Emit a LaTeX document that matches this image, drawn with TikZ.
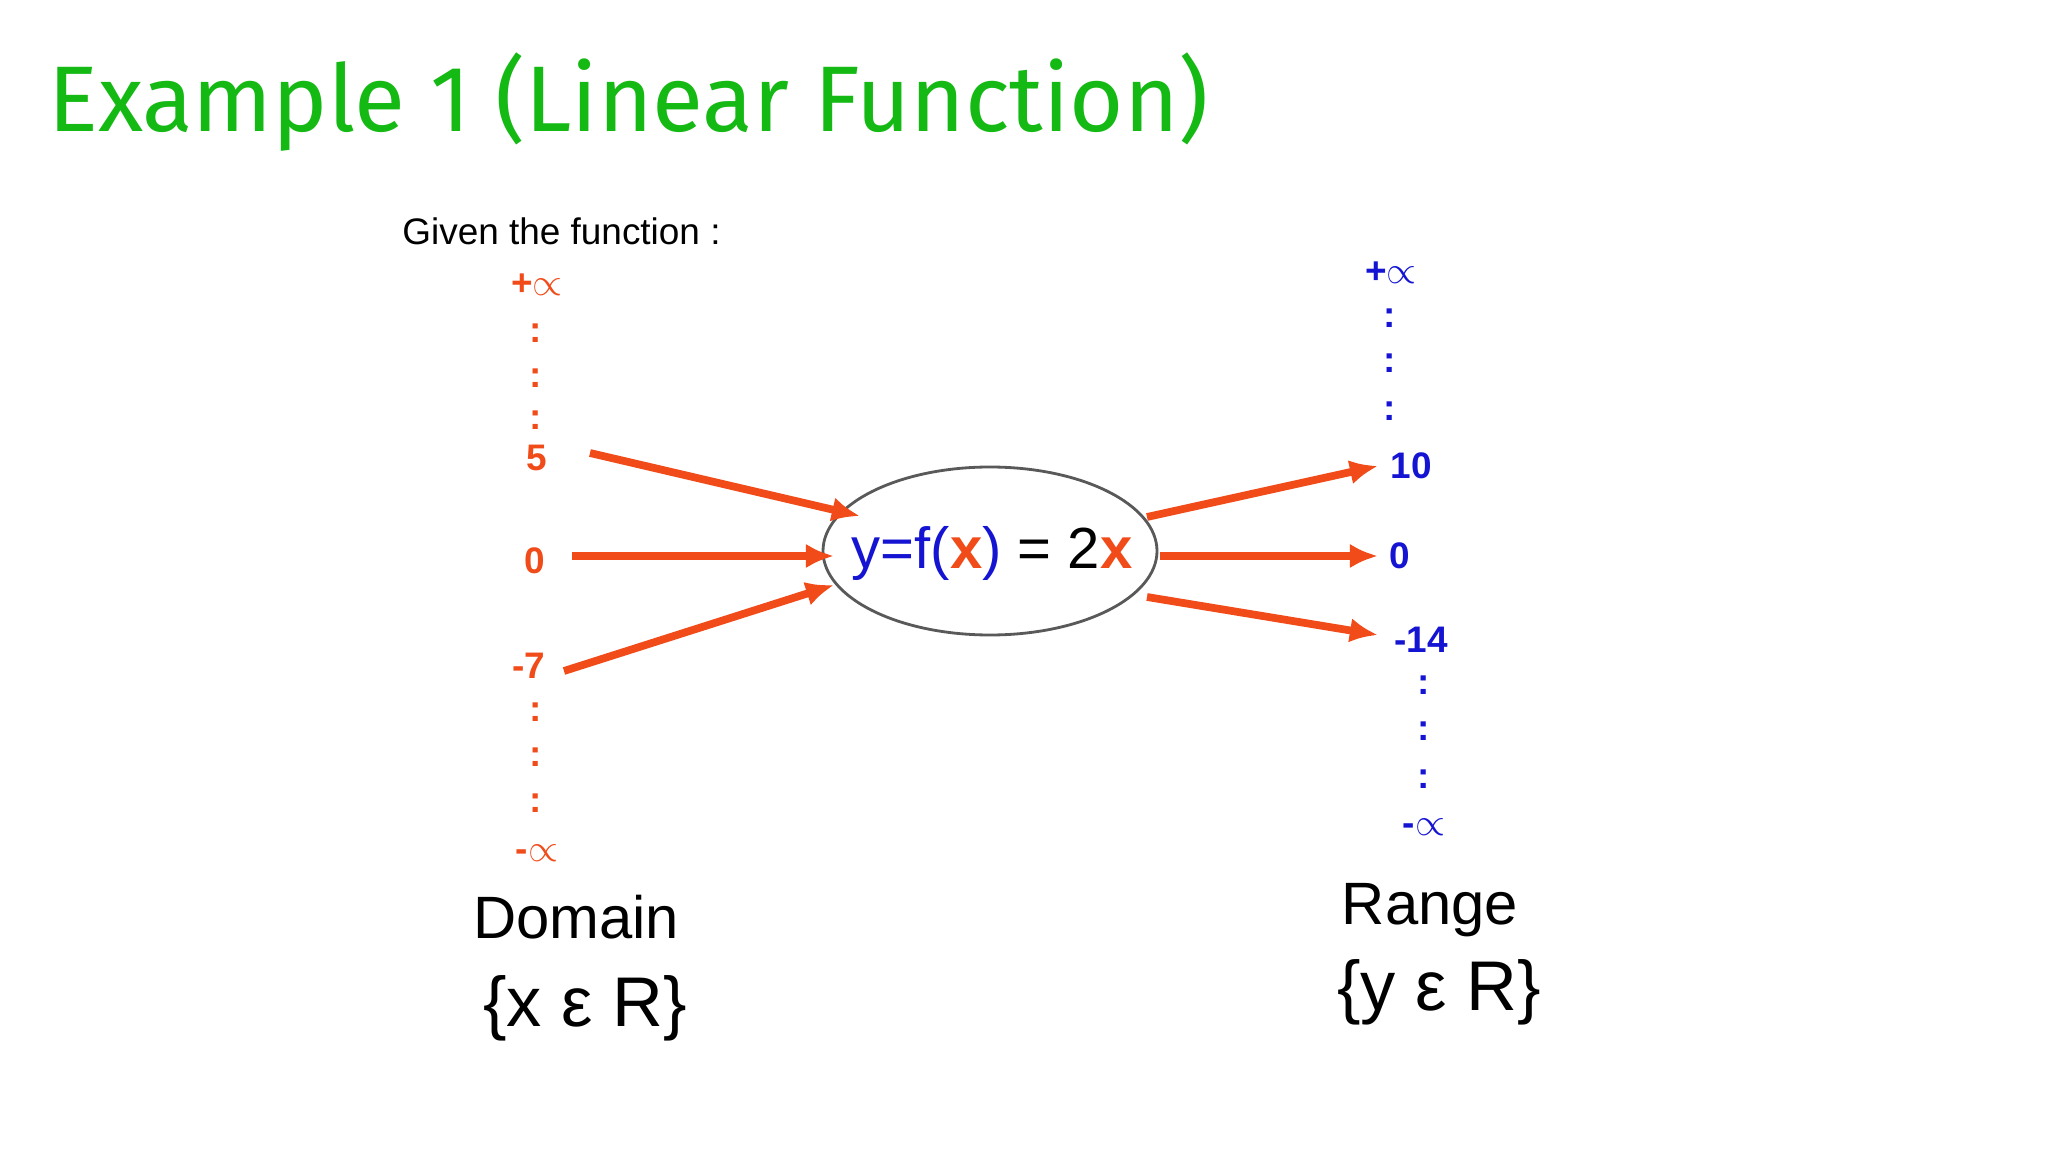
\documentclass[tikz,border=0pt]{standalone}
\usepackage{fontspec}
\setmainfont{Liberation Sans}
\newfontfamily\titlefont{Fira Sans}
\usetikzlibrary{arrows.meta}
\definecolor{ttl}{RGB}{20,185,20}
\definecolor{arr}{RGB}{240,75,25}
\definecolor{blu}{RGB}{20,20,210}
\newcommand{\myinf}{$\mathbf{\propto}$}
\tikzset{
  lab/.style={font=\fontsize{10.5pt}{12pt}\selectfont\bfseries},
  dl/.style={lab,text=arr},
  rl/.style={lab,text=blu},
  conn/.style={arr,line width=2.2pt,-{Latex[length=8pt,width=7pt]}},
  big/.style={font=\fontsize{17pt}{20pt}\selectfont}
}
\begin{document}
\begin{tikzpicture}[x=0.01cm,y=-0.01cm]
\useasboundingbox (0,0) rectangle (2048,1152);
\fill[white] (0,0) rectangle (2048,1152);
\node[anchor=west,text=ttl,font=\titlefont\fontsize{26.5pt}{32pt}\selectfont] (title) at (36,102) {Example 1 (Linear Function)};
\node[anchor=west,font=\fontsize{10.5pt}{12pt}\selectfont] (given) at (390,231) {Given the function :};
% domain column
\node[dl] (dinf) at (537,285) {+\myinf};
\foreach \y/\n in {333/a,378/b,420/c,712/d,757/e,803/f}
  \node[dl] (dd\n) at (536,\y) {:};
\node[dl] (d5) at (537,458) {5};
\node[dl] (d0) at (535,561) {0};
\node[dl] (dm7) at (529,666) {-7};
\node[dl] (dminf) at (537,853) {-\myinf};
% range column
\node[rl] (rinf) at (1391,273) {+\myinf};
\foreach \y/\n in {318/a,363/b,411/c}
  \node[rl] (rd\n) at (1390,\y) {:};
\foreach \y/\n in {685/d,731/e,779/f}
  \node[rl] (rd\n) at (1424,\y) {:};
\node[rl] (r10) at (1411,466) {10};
\node[rl] (r0) at (1400,556) {0};
\node[rl] (rm14) at (1421,640) {-14};
\node[rl] (rminf) at (1424,827) {-\myinf};
% function ellipse
\draw[gray!70!black,line width=0.8pt] (990,551) ellipse [x radius=167,y radius=84];
\node[font=\fontsize{16.5pt}{20pt}\selectfont] (fn) at (992,553)
  {\textcolor{blu}{y=f(}\textcolor{arr}{\bfseries x}\textcolor{blu}{)} = 2\textcolor{arr}{\bfseries x}};
% connector endpoints
\coordinate (a1s) at (590,453); \coordinate (a1e) at (860,516);
\coordinate (a2s) at (572,556); \coordinate (a2e) at (834,556);
\coordinate (a3s) at (564,671); \coordinate (a3e) at (834,585);
\coordinate (b1s) at (1147,517); \coordinate (b1e) at (1378,466);
\coordinate (b2s) at (1160,556); \coordinate (b2e) at (1378,556);
\coordinate (b3s) at (1147,597); \coordinate (b3e) at (1378,635);
\foreach \s/\e in {a1s/a1e,a2s/a2e,a3s/a3e,b1s/b1e,b2s/b2e,b3s/b3e}
  \draw[conn] (\s) -- (\e);
% labels
\node[big] (dom) at (576,917) {Domain};
\node[font=\fontsize{20pt}{24pt}\selectfont] (dset) at (585,1008) {\{x ε R\}};
\node[big] (ran) at (1430,910) {Range};
\node[font=\fontsize{20pt}{24pt}\selectfont] (rset) at (1439,992) {\{y ε R\}};
\end{tikzpicture}
\end{document}
